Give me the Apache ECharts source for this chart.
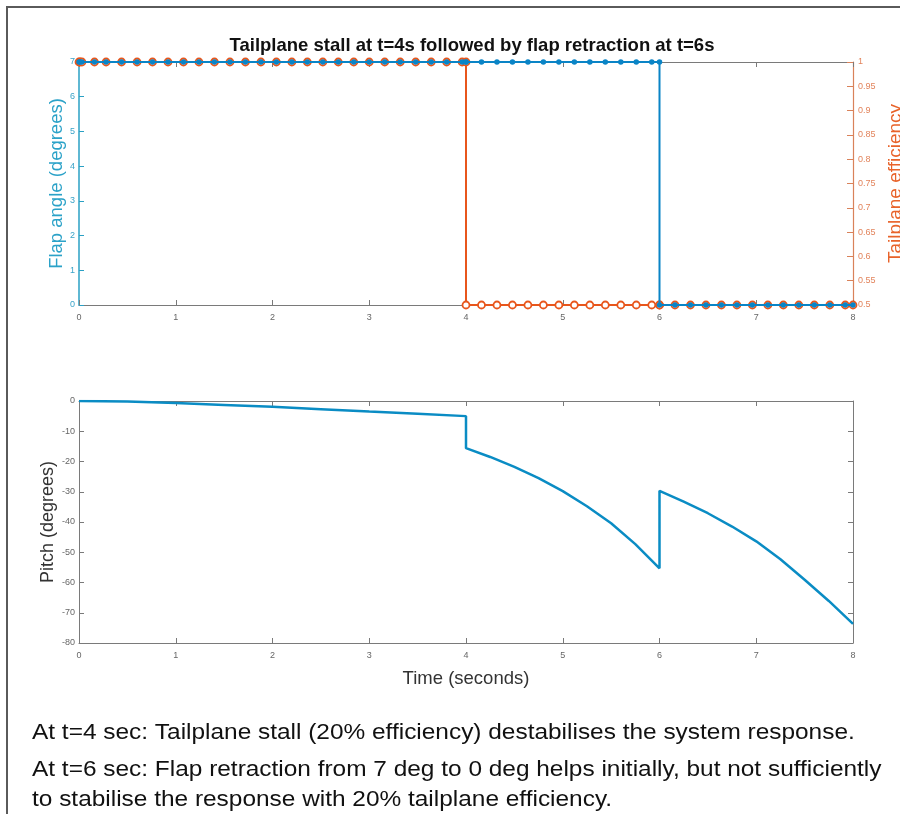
<!DOCTYPE html>
<html>
<head>
<meta charset="utf-8">
<script src="https://cdn.jsdelivr.net/npm/echarts@6/dist/echarts.min.js"></script>
<style>
  html, body { margin: 0; padding: 0; background: #fff; }
  #chart { width: 900px; height: 814px; }
</style>
</head>
<body>
<div id="chart"></div>
<script>
// Simulation output time steps (s), shared by the flap and tailplane traces
const simTime = [0, 0.01, 0.03, 0.16, 0.28, 0.44, 0.60, 0.76, 0.92, 1.08, 1.24, 1.40, 1.56, 1.72, 1.88,
  2.04, 2.20, 2.36, 2.52, 2.68, 2.84, 3.00, 3.16, 3.32, 3.48, 3.64, 3.80, 3.96, 4.00, 4.00,
  4.16, 4.32, 4.48, 4.64, 4.80, 4.96, 5.12, 5.28, 5.44, 5.60, 5.76, 5.92, 6.00, 6.00,
  6.16, 6.32, 6.48, 6.64, 6.80, 6.96, 7.12, 7.28, 7.44, 7.60, 7.76, 7.92, 8.00];

// Flap angle (degrees): 7 deg until retraction at t=6
const flapAngle = [7, 7, 7, 7, 7, 7, 7, 7, 7, 7, 7, 7, 7, 7, 7,
  7, 7, 7, 7, 7, 7, 7, 7, 7, 7, 7, 7, 7, 7, 7,
  7, 7, 7, 7, 7, 7, 7, 7, 7, 7, 7, 7, 7, 0,
  0, 0, 0, 0, 0, 0, 0, 0, 0, 0, 0, 0, 0];

// Tailplane efficiency: full until stall at t=4
const tailEff = [1, 1, 1, 1, 1, 1, 1, 1, 1, 1, 1, 1, 1, 1, 1,
  1, 1, 1, 1, 1, 1, 1, 1, 1, 1, 1, 1, 1, 1, 0.5,
  0.5, 0.5, 0.5, 0.5, 0.5, 0.5, 0.5, 0.5, 0.5, 0.5, 0.5, 0.5, 0.5, 0.5,
  0.5, 0.5, 0.5, 0.5, 0.5, 0.5, 0.5, 0.5, 0.5, 0.5, 0.5, 0.5, 0.5];

// Pitch response (degrees)
const pitchTime = [0, 0.5, 1, 1.5, 2, 2.5, 3, 3.5, 4, 4, 4.25, 4.5, 4.75, 5, 5.25, 5.5, 5.75, 6,
  6, 6.25, 6.5, 6.75, 7, 7.25, 7.5, 7.75, 8];
const pitch = [0, -0.2, -0.7, -1.3, -1.9, -2.7, -3.5, -4.2, -5.0, -15.6, -18.5, -21.8, -25.5, -29.8,
  -34.8, -40.4, -47.3, -55.3, -29.7, -33.3, -37.1, -41.5, -46.4, -52.3, -59.1, -66.1, -73.7];

const titleText = 'Tailplane stall at t=4s followed by flap retraction at t=6s';
const noteLines = [
  'At t=4 sec: Tailplane stall (20% efficiency) destabilises the system response.',
  'At t=6 sec: Flap retraction from 7 deg to 0 deg helps initially, but not sufficiently',
  'to stabilise the response with 20% tailplane efficiency.'
];
const noteTops = [722, 759, 789];

const FONT = '"Liberation Sans", Arial, Helvetica, sans-serif';
const BLUE = '#0a84c6';
const ORANGE = '#e8561c';
const GRAY = '#7a7a7a';

const pairs = (xs, ys) => xs.map((x, i) => [x, ys[i]]);

function timeAxis(gridIndex, opts) {
  return Object.assign({
    type: 'value', gridIndex, min: 0, max: 8, interval: 1,
    axisLine: { show: true, onZero: false, lineStyle: { color: GRAY, width: 1 } },
    axisTick: { show: true, inside: true, length: 5, lineStyle: { color: GRAY } },
    axisLabel: { show: true, fontSize: 9, color: '#666', margin: 8, fontFamily: FONT },
    splitLine: { show: false }
  }, opts);
}

const chart = echarts.init(document.getElementById('chart'), null, { renderer: 'canvas' });

chart.setOption({
  animation: false,
  backgroundColor: '#fff',
  textStyle: { fontFamily: FONT },
  title: {
    text: titleText, left: 467, top: 31, textAlign: 'center',
    textStyle: { fontSize: 18.5, fontWeight: 'bold', color: '#111', fontFamily: FONT }
  },
  grid: [
    { left: 79, right: 47, top: 62, height: 243, outerBoundsMode: 'none', containLabel: false },
    { left: 79, right: 47, top: 401, height: 242, outerBoundsMode: 'none', containLabel: false }
  ],
  xAxis: [
    timeAxis(0, {}),
    timeAxis(0, { position: 'top', axisLabel: { show: false } }),
    timeAxis(1, {
      name: 'Time (seconds)', nameLocation: 'middle', nameGap: 26, nameMoveOverlap: false,
      nameTextStyle: { fontSize: 18.5, color: '#333', fontFamily: FONT }
    }),
    timeAxis(1, { position: 'top', axisLabel: { show: false } })
  ],
  yAxis: [
    {
      type: 'value', gridIndex: 0, min: 0, max: 7, interval: 1, position: 'left',
      name: 'Flap angle (degrees)', nameLocation: 'middle', nameGap: 12.5, nameRotate: 90,
      nameMoveOverlap: false,
      nameTextStyle: { fontSize: 18.5, color: '#2ba2c8', fontFamily: FONT },
      axisLine: { show: true, onZero: false, lineStyle: { color: '#2aa0c4', width: 1.5 } },
      axisTick: { show: true, inside: true, length: 5, lineStyle: { color: '#2aa0c4' } },
      axisLabel: { fontSize: 9, color: '#3aa3c8', margin: 4, fontFamily: FONT },
      splitLine: { show: false }
    },
    {
      type: 'value', gridIndex: 0, min: 0.5, max: 1, interval: 0.05, position: 'right',
      name: 'Tailplane efficiency', nameLocation: 'middle', nameGap: 33, nameRotate: 90,
      nameMoveOverlap: false,
      nameTextStyle: { fontSize: 19, color: '#e8632a', fontFamily: FONT },
      axisLine: { show: true, onZero: false, lineStyle: { color: '#d9825a', width: 1.2 } },
      axisTick: { show: true, inside: true, length: 6, lineStyle: { color: '#d9825a' } },
      axisLabel: { fontSize: 9, color: '#e2845c', margin: 5, fontFamily: FONT },
      splitLine: { show: false }
    },
    {
      type: 'value', gridIndex: 1, min: -80, max: 0, interval: 10, position: 'left',
      name: 'Pitch (degrees)', nameLocation: 'middle', nameGap: 21.5, nameRotate: 90,
      nameMoveOverlap: false,
      nameTextStyle: { fontSize: 18, color: '#333', fontFamily: FONT },
      axisLine: { show: true, onZero: false, lineStyle: { color: GRAY, width: 1 } },
      axisTick: { show: true, inside: true, length: 5, lineStyle: { color: GRAY } },
      axisLabel: { fontSize: 9, color: '#666', margin: 4, fontFamily: FONT },
      splitLine: { show: false }
    },
    {
      type: 'value', gridIndex: 1, min: -80, max: 0, interval: 10, position: 'right',
      axisLine: { show: true, onZero: false, lineStyle: { color: GRAY, width: 1 } },
      axisTick: { show: true, inside: true, length: 5, lineStyle: { color: GRAY } },
      axisLabel: { show: false },
      splitLine: { show: false }
    }
  ],
  series: [
    {
      name: 'Tailplane efficiency', type: 'line', xAxisIndex: 0, yAxisIndex: 1,
      data: pairs(simTime, tailEff),
      symbol: 'circle', symbolSize: 7, showAllSymbol: true,
      lineStyle: { color: ORANGE, width: 2 },
      itemStyle: { color: '#ffffff', borderColor: ORANGE, borderWidth: 1.8 },
      z: 3
    },
    {
      name: 'Flap angle', type: 'line', xAxisIndex: 0, yAxisIndex: 0,
      data: pairs(simTime, flapAngle),
      symbol: 'circle', symbolSize: 5.5, showAllSymbol: true,
      lineStyle: { color: BLUE, width: 2 },
      itemStyle: { color: BLUE, borderWidth: 0 },
      z: 4
    },
    {
      name: 'Pitch', type: 'line', xAxisIndex: 2, yAxisIndex: 2,
      data: pairs(pitchTime, pitch),
      symbol: 'none', smooth: false,
      lineStyle: { color: '#0a8cc4', width: 2.5 }
    }
  ],
  graphic: [
    {
      type: 'rect', silent: true,
      shape: { x: 7, y: 7, width: 1000, height: 1000 },
      style: { fill: 'none', stroke: '#5a5a5a', lineWidth: 2 }
    }
  ].concat(noteLines.map((line, i) => ({
    type: 'text', x: 32, y: noteTops[i], scaleX: 1.11, scaleY: 1,
    style: { text: line, font: '22px ' + FONT, fill: '#111', align: 'left', verticalAlign: 'top' }
  })))
});
</script>
</body>
</html>
